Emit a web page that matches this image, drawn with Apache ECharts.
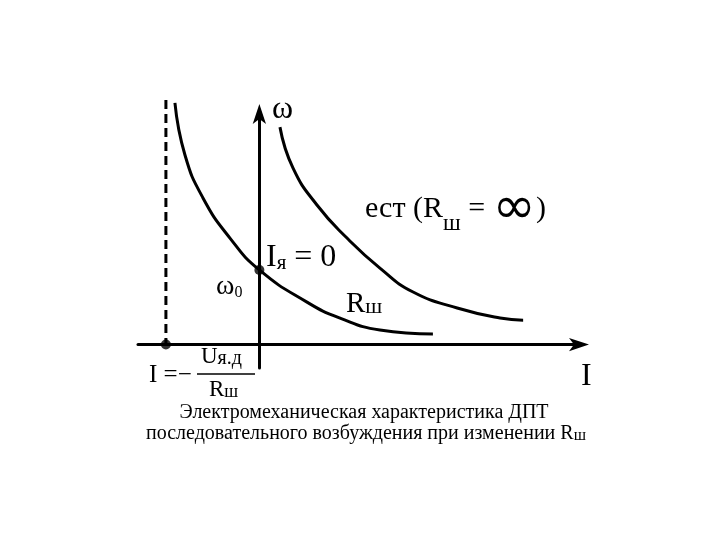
<!DOCTYPE html>
<html><head><meta charset="utf-8">
<script src="https://cdn.jsdelivr.net/npm/echarts@6/dist/echarts.min.js"></script>
<style>html,body{margin:0;padding:0;background:#fff}#c{width:720px;height:540px}</style>
</head><body><div id="c"></div>
<script>
// Curve with shunt resistor Rш
const rshX = [-2.087, -1.839, -1.394, -0.727, 0.00, 1.177, 1.993, 2.98, 4.29];
const rshY = [10.30, 8.08, 6.25, 4.54, 3.18, 1.81, 1.13, 0.62, 0.45];
// Natural characteristic (Rш = ∞)
const estX = [0.509, 0.83, 1.424, 2.166, 2.98, 3.80, 4.89, 5.95, 6.52];
const estY = [9.27, 7.53, 5.95, 4.54, 3.26, 2.24, 1.56, 1.13, 1.04];
// Dashed asymptote I = -Uя.д/Rш
const dashX = [-2.31, -2.31];
const dashY = [10.43, 0];
// Marked points
const ptX = [-2.31, 0];
const ptY = [0, 3.18];
const titleLines = ['Электромеханическая характеристика ДПТ', 'последовательного возбуждения при изменении Rш'];

const zip = (a, b) => a.map((v, i) => [v, b[i]]);
const serif = '"Liberation Serif", "DejaVu Serif", serif';
const chart = echarts.init(document.getElementById('c'));
const axisCommon = {
  type: 'value',
  axisLine: { show: true, onZero: true, symbol: ['none', 'arrow'], symbolSize: [10, 20], symbolOffset: [0, 6],
    lineStyle: { color: '#000', width: 3 } },
  axisTick: { show: false }, axisLabel: { show: false }, splitLine: { show: false }
};
function txt(text, x, y, size, rich, align) {
  return { type: 'text', x: x, y: y, style: { text: text, font: size + 'px ' + serif, fill: '#000',
    align: align || 'left', verticalAlign: 'middle', rich: rich || {} } };
}
const sub = (s) => ({ fontFamily: serif, fontSize: s, verticalAlign: 'bottom', fill: '#000' });
const big = (s) => ({ fontFamily: '"DejaVu Sans", sans-serif', fontSize: s, fill: '#000' });
const curveStyle = { type: 'line', smooth: 0.5, showSymbol: false, clip: false,
  lineStyle: { color: '#000', width: 3 } };
chart.setOption({
  backgroundColor: '#fff',
  animation: false,
  grid: { left: 138, right: 137, top: 110, bottom: 172 },
  xAxis: Object.assign({}, axisCommon, { min: -3, max: 8 }),
  yAxis: Object.assign({}, axisCommon, { min: -1, max: 10 }),
  series: [
    Object.assign({}, curveStyle, { data: zip(rshX, rshY) }),
    Object.assign({}, curveStyle, { data: zip(estX, estY) }),
    { type: 'line', data: zip(dashX, dashY), showSymbol: false, clip: false,
      lineStyle: { color: '#000', width: 3, type: [9, 5] } },
    { type: 'scatter', data: zip(ptX, ptY), symbolSize: 10, itemStyle: { color: '#000' }, clip: false }
  ],
  graphic: [
    txt('ω', 272, 110, 32),
    txt('ест (R{s|ш} = {i|∞})', 365, 209, 30, { s: sub(23), i: big(52) }),
    txt('I{s|я} = 0', 266, 258, 32, { s: sub(21) }),
    txt('ω{s|0}', 216, 287, 28, { s: sub(16) }),
    txt('R{s|ш}', 346, 304, 29, { s: sub(22) }),
    txt('I =−', 149, 375, 25),
    { type: 'line', shape: { x1: 197, y1: 374, x2: 255, y2: 374 }, style: { stroke: '#000', lineWidth: 1.5 } },
    txt('U{s|я.д}', 201, 357, 23, { s: sub(20) }),
    txt('R{s|ш}', 209, 390, 23, { s: sub(18) }),
    txt('I', 581, 377, 32),
    txt(titleLines[0], 364, 413, 20, null, 'center'),
    txt(titleLines[1].replace('Rш', 'R{s|ш}'), 366, 434, 20, { s: sub(16) }, 'center')
  ]
});
</script></body></html>
